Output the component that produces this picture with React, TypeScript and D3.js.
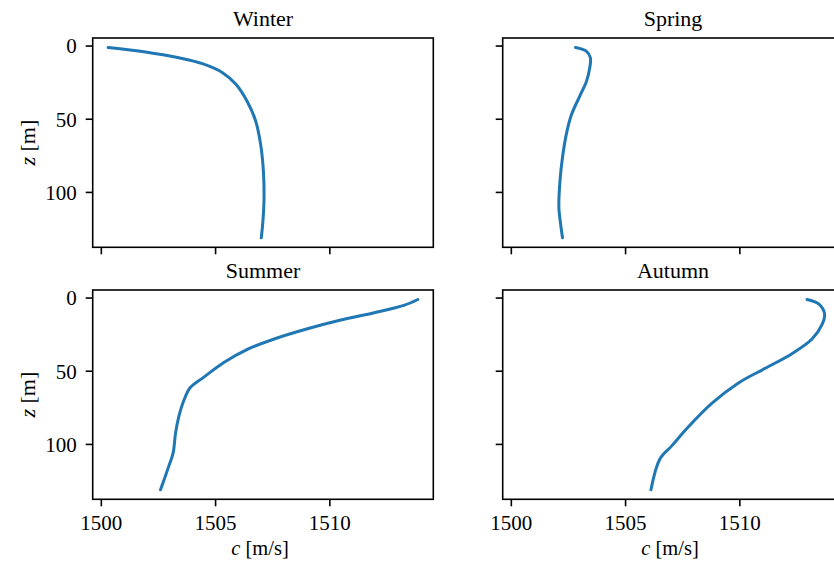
import React from "react";
import * as d3 from "d3";

// Sound-speed profiles c(z) for each season
const winterDepth = [1, 4, 8, 12, 18, 26, 38, 51, 67, 85, 104, 120, 131];
const winterSpeed = [1500.3, 1501.93, 1503.39, 1504.42, 1505.29, 1505.88, 1506.39, 1506.75, 1506.97, 1507.09, 1507.12, 1507.07, 1507.0];

const springDepth = [1, 3.6, 8, 15, 24, 34, 47, 60, 76, 92, 110, 122, 131];
const springSpeed = [1502.81, 1503.29, 1503.46, 1503.43, 1503.29, 1503.0, 1502.63, 1502.41, 1502.24, 1502.13, 1502.08, 1502.16, 1502.24];

const summerDepth = [1, 5, 10, 15, 21, 28, 35, 44, 54, 61, 70, 81, 92, 106, 115, 131];
const summerSpeed = [1513.85, 1513.24, 1511.94, 1510.48, 1509.02, 1507.56, 1506.39, 1505.36, 1504.49, 1503.9, 1503.61, 1503.39, 1503.25, 1503.14, 1502.95, 1502.59];

const autumnDepth = [1, 4, 11, 18, 28, 38, 48, 58, 72, 88, 101, 110, 131];
const autumnSpeed = [1512.94, 1513.45, 1513.71, 1513.6, 1513.16, 1512.28, 1511.11, 1509.94, 1508.77, 1507.75, 1507.02, 1506.5, 1506.11];

const seasons = ["Winter", "Spring", "Summer", "Autumn"];
const speedTicks = [1500, 1505, 1510];
const depthTicks = [0, 50, 100];

const profiles = [
  { depth: winterDepth, speed: winterSpeed },
  { depth: springDepth, speed: springSpeed },
  { depth: summerDepth, speed: summerSpeed },
  { depth: autumnDepth, speed: autumnSpeed },
];

const W = 834;
const H = 570;
const FONT = "'Liberation Serif', 'DejaVu Serif', serif";
const LINE = "#1f77b4";

// Panel frames: [left, right] columns and [top, bottom] rows
const cols = [
  [92.7, 433.3],
  [502.7, 843.3],
];
const rows = [
  [38, 247.3],
  [290, 499.3],
];

function padded(ext: [number, number]): [number, number] {
  const span = ext[1] - ext[0];
  return [ext[0] - 0.05 * span, ext[1] + 0.05 * span];
}

const allSpeed = d3.extent(profiles.flatMap((p) => p.speed)) as [number, number];
const allDepth = d3.extent(profiles.flatMap((p) => p.depth)) as [number, number];
const speedDomain = padded(allSpeed);
const depthDomain = padded(allDepth);

function Panel({ idx }: { idx: number }) {
  const r = Math.floor(idx / 2);
  const c = idx % 2;
  const [x0, x1] = cols[c];
  const [y0, y1] = rows[r];
  const x = d3.scaleLinear().domain(speedDomain).range([x0, x1]);
  const y = d3.scaleLinear().domain(depthDomain).range([y0, y1]);
  const p = profiles[idx];
  const pts = p.depth.map((d, i) => [p.speed[i], d] as [number, number]);
  const line = d3
    .line<[number, number]>()
    .x((d) => x(d[0]))
    .y((d) => y(d[1]))
    .curve(d3.curveCatmullRom.alpha(0.5));
  const cx = (x0 + x1) / 2;
  const cy = (y0 + y1) / 2;
  const tickLen = 7;
  return (
    <g>
      <path d={line(pts) ?? ""} fill="none" stroke={LINE} strokeWidth={3} strokeLinejoin="round" strokeLinecap="round" />
      <rect x={x0} y={y0} width={x1 - x0} height={y1 - y0} fill="none" stroke="#000" strokeWidth={1.6} />
      {speedTicks.map((t) => (
        <g key={"x" + t}>
          <line x1={x(t)} x2={x(t)} y1={y1} y2={y1 + tickLen} stroke="#000" strokeWidth={1.6} />
          {r === 1 && (
            <text x={x(t)} y={y1 + 30.5} textAnchor="middle" fontSize={21} fontFamily={FONT} fill="#000">
              {t}
            </text>
          )}
        </g>
      ))}
      {depthTicks.map((t) => (
        <g key={"y" + t}>
          <line x1={x0 - tickLen} x2={x0} y1={y(t)} y2={y(t)} stroke="#000" strokeWidth={1.6} />
          {c === 0 && (
            <text x={x0 - 16} y={y(t)} dy="0.35em" textAnchor="end" fontSize={21} fontFamily={FONT} fill="#000">
              {t}
            </text>
          )}
        </g>
      ))}
      <text x={cx} y={y0 - 12.5} textAnchor="middle" fontSize={22} fontFamily={FONT} fill="#000">
        {seasons[idx]}
      </text>
      {c === 0 && (
        <text
          transform={`translate(35,${cy}) rotate(-90)`}
          textAnchor="middle"
          fontSize={22}
          fontFamily={FONT}
          fill="#000"
        >
          <tspan fontStyle="italic">z</tspan> [m]
        </text>
      )}
      {r === 1 && (
        <text x={cx - 3} y={y1 + 55.5} textAnchor="middle" fontSize={20.5} fontFamily={FONT} fill="#000">
          <tspan fontStyle="italic">c</tspan> [m/s]
        </text>
      )}
    </g>
  );
}

export default function App() {
  return (
    <svg
      width={W}
      height={H}
      viewBox={`0 0 ${W} ${H}`}
      style={{ position: "absolute", left: 0, top: 0, background: "#fff", overflow: "hidden" }}
    >
      <rect x={0} y={0} width={W} height={H} fill="#fff" />
      {[0, 1, 2, 3].map((i) => (
        <Panel key={i} idx={i} />
      ))}
    </svg>
  );
}
